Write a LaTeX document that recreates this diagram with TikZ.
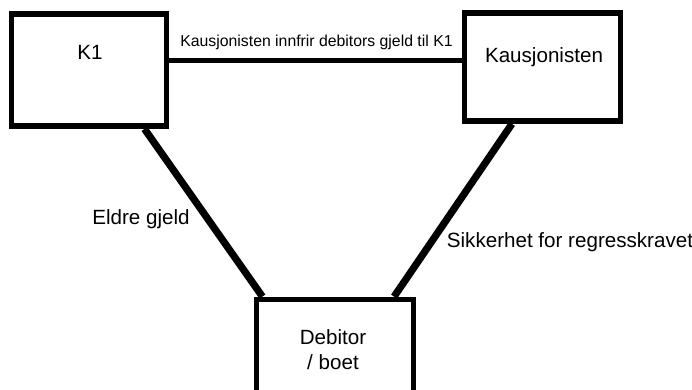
\documentclass[tikz,border=0pt]{standalone}
\usepackage{fontspec}
\setmainfont{Liberation Sans}
\usetikzlibrary{calc}

\tikzset{
  party/.style={draw=black, line width=5.8pt, inner sep=0pt, rectangle},
  boxtext/.style={anchor=base, inner sep=0pt, font=\fontsize{20.6}{25}\selectfont},
  edgetext/.style={anchor=base, inner sep=0pt, font=\fontsize{20.6}{25}\selectfont},
  toptext/.style={anchor=base, inner sep=0pt, font=\fontsize{15.8}{19}\selectfont},
  thin link/.style={draw=black, line width=5pt},
  thick link/.style={draw=black, line width=7.2pt},
}

\begin{document}
\begin{tikzpicture}[x=1pt, y=1pt]
  \useasboundingbox (0,0) rectangle (692,390);

  % the three parties
  \node[party, minimum width=155pt, minimum height=112pt] (k1)   at (89,320)    {};
  \node[party, minimum width=156pt, minimum height=108pt] (kaus) at (542.5,323) {};
  \node[party, minimum width=157pt, minimum height=121pt] (deb)  at (335,30)    {};

  % relations between the parties
  \draw[thin link] ([yshift=9pt]k1.east) -- ([yshift=6pt]kaus.west);
  \draw[thick link] ($(k1.south west)!0.845!(k1.south east)$)
                 -- ($(deb.north west)!0.054!(deb.north east)$);
  \draw[thick link] ($(kaus.south west)!0.311!(kaus.south east)$)
                 -- ($(deb.north west)!0.863!(deb.north east)$);

  % names inside the boxes
  \node[boxtext] (k1t)   at (90,330)  {K1};
  \node[boxtext] (kaust) at (544,327) {Kausjonisten};
  \node[boxtext] (debt1) at (333,45)  {Debitor};
  \node[boxtext] (debt2) at (333,20)  {/ boet};

  % relation labels
  \node[toptext] (ltop) at (316.5,343.3) {Kausjonisten innfrir debitors gjeld til K1};
  \node[edgetext] (lleft) at (141,165) {Eldre gjeld};
  \node[edgetext, anchor=base west] (lright) at (446.7,142) {Sikkerhet for regresskravet};
\end{tikzpicture}
\end{document}
